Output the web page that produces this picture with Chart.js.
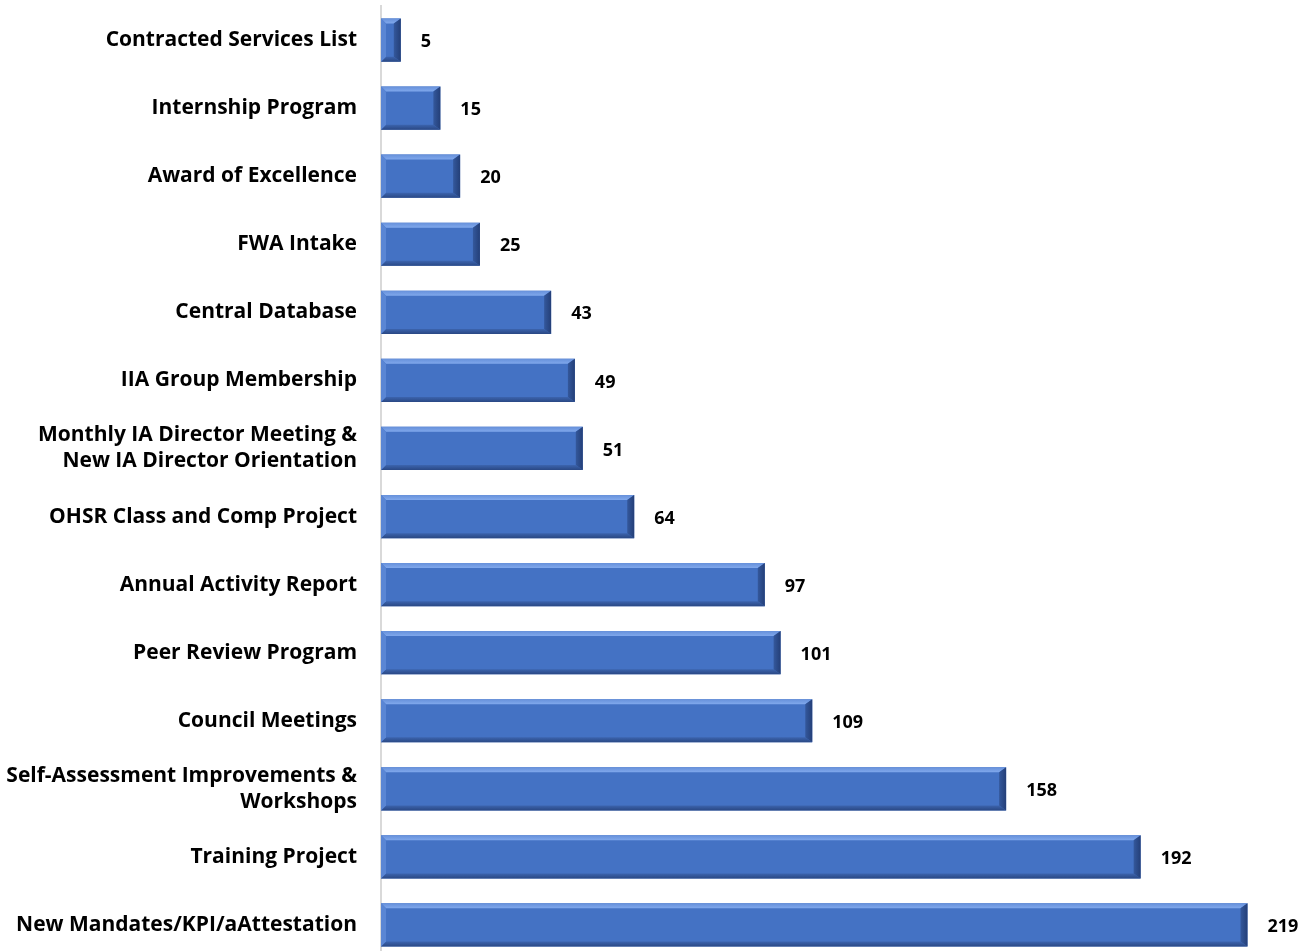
<!DOCTYPE html>
<html><head><meta charset="utf-8">
<script src="https://cdn.jsdelivr.net/npm/chart.js@4/dist/chart.umd.min.js"></script>
<style>html,body{margin:0;padding:0;background:#fff;overflow:hidden}#wrap{position:absolute;left:0;top:0;width:1315px;height:965px}</style>
</head><body><div id="wrap"><canvas id="c"></canvas></div>
<script>
const categories = [
  "Contracted Services List",
  "Internship Program",
  "Award of Excellence",
  "FWA Intake",
  "Central Database",
  "IIA Group Membership",
  ["Monthly IA Director Meeting &", "New IA Director Orientation"],
  "OHSR Class and Comp Project",
  "Annual Activity Report",
  "Peer Review Program",
  "Council Meetings",
  ["Self-Assessment Improvements &", "Workshops"],
  "Training Project",
  "New Mandates/KPI/aAttestation"
];
const values = [5, 15, 20, 25, 43, 49, 51, 64, 97, 101, 109, 158, 192, 219];

const FONT = "'Open Sans', 'Liberation Sans', sans-serif";

function barGradient(ctx) {
  const el = ctx.element;
  const chart = ctx.chart;
  if (!el || el.y === undefined || !el.height) return '#4472c4';
  const h = el.height, top = el.y - h / 2;
  const g = chart.ctx.createLinearGradient(0, top, 0, top + h);
  g.addColorStop(0, '#5a86d6');
  g.addColorStop(0.3, '#4a79cc');
  g.addColorStop(0.7, '#4573c6');
  g.addColorStop(1, '#4270c2');
  return g;
}

function poly(ctx, pts, fill) {
  ctx.beginPath();
  ctx.moveTo(pts[0][0], pts[0][1]);
  for (let i = 1; i < pts.length; i++) ctx.lineTo(pts[i][0], pts[i][1]);
  ctx.closePath();
  ctx.fillStyle = fill;
  ctx.fill();
}

const bevelPlugin = {
  id: 'bevel',
  afterDatasetsDraw(chart) {
    const ctx = chart.ctx;
    const meta = chart.getDatasetMeta(0);
    ctx.save();
    meta.data.forEach((bar, i) => {
      const h = bar.height, t = bar.y - h / 2, b = bar.y + h / 2;
      const l = bar.base, r = bar.x;
      const d = Math.min(5, (r - l) / 2 - 0.5);
      const dr = Math.min(7, (r - l) / 2);
      const gt = ctx.createLinearGradient(0, t, 0, t + d);
      gt.addColorStop(0, '#6690da'); gt.addColorStop(1, '#80a8ec');
      poly(ctx, [[l, t], [r, t], [r - dr, t + d], [l + d, t + d]], gt);
      const gb = ctx.createLinearGradient(0, b - d, 0, b);
      gb.addColorStop(0, '#3c64ae'); gb.addColorStop(1, '#2a4884');
      poly(ctx, [[l + d, b - d], [r - dr, b - d], [r, b], [l, b]], gb);
      poly(ctx, [[l, t], [l + d, t + d], [l + d, b - d], [l, b]], '#5a86d4');
      const gr = ctx.createLinearGradient(r - dr, 0, r, 0);
      gr.addColorStop(0, '#34589c'); gr.addColorStop(1, '#243f78');
      poly(ctx, [[r, t], [r, b], [r - dr, b - d], [r - dr, t + d]], gr);
      ctx.fillStyle = '#000';
      ctx.font = "bold 18px " + FONT;
      ctx.textAlign = 'left';
      ctx.textBaseline = 'middle';
      ctx.fillText(String(values[i]), r + 20, bar.y + 2);
    });
    ctx.restore();
  }
};

new Chart(document.getElementById('c'), {
  type: 'bar',
  data: {
    labels: categories,
    datasets: [{
      data: values,
      backgroundColor: barGradient,
      borderWidth: 0,
      barPercentage: 0.92,
      categoryPercentage: 0.69
    }]
  },
  options: {
    indexAxis: 'y',
    responsive: true,
    maintainAspectRatio: false,
    animation: false,
    layout: { padding: { top: 6, bottom: 6, left: 0, right: 24 } },
    plugins: { legend: { display: false }, tooltip: { enabled: false } },
    scales: {
      x: {
        min: 0, max: 230,
        display: false,
        grid: { display: false }
      },
      y: {
        grid: { display: false, drawTicks: false },
        border: { display: true, color: '#d9d9d9', width: 2 },
        afterFit(scale) { scale.width = 381; scale.paddingTop = 0; scale.paddingBottom = 0; },
        ticks: {
          color: '#000',
          padding: 24,
          font: { family: FONT, size: 21, weight: 'bold', lineHeight: 1.24 }
        }
      }
    }
  },
  plugins: [bevelPlugin]
});
</script></body></html>
